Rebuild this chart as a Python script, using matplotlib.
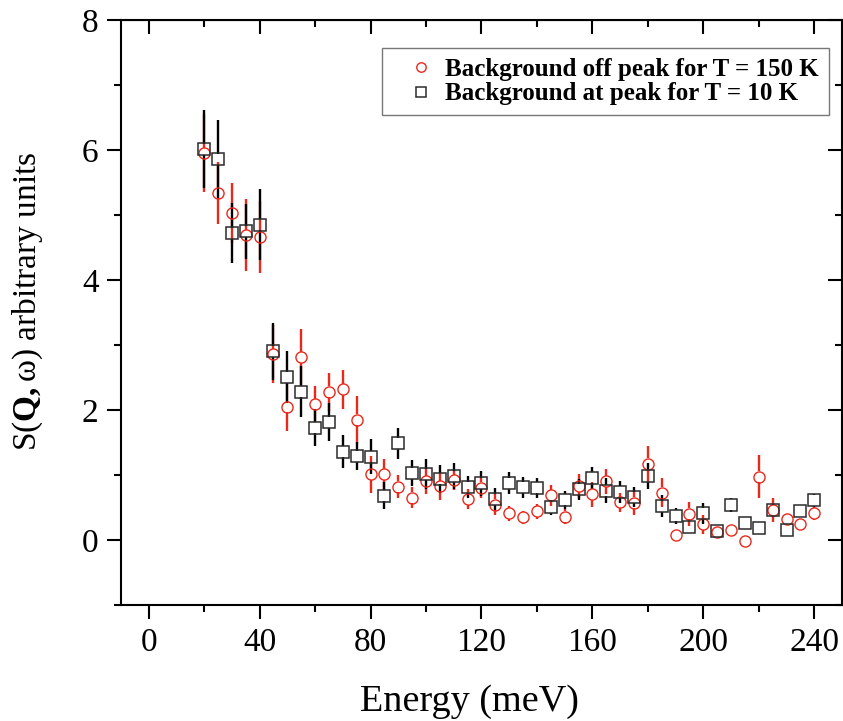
import numpy as np
import matplotlib
matplotlib.use("Agg")
import matplotlib.pyplot as plt

plt.rcParams['font.family'] = ['Liberation Serif', 'DejaVu Serif']
plt.rcParams['mathtext.fontset'] = 'custom'
plt.rcParams['mathtext.rm'] = 'Liberation Serif'
plt.rcParams['mathtext.it'] = 'Liberation Serif'
plt.rcParams['mathtext.bf'] = 'Liberation Serif:bold'

# Energy transfer grid (meV)
energy = np.arange(20, 245, 5)

# Background off peak, T = 150 K
s_150 = [5.95, 5.34, 5.03, 4.69, 4.66, 2.86, 2.05, 2.81, 2.09, 2.28,
         2.32, 1.85, 1.01, 1.01, 0.82, 0.65, 0.90, 0.83, 0.92, 0.63,
         0.80, 0.54, 0.41, 0.35, 0.44, 0.69, 0.36, 0.83, 0.70, 0.90,
         0.58, 0.57, 1.17, 0.73, 0.07, 0.40, 0.24, 0.12, 0.15, -0.01,
         0.97, 0.46, 0.32, 0.25, 0.41]
err_150 = [0.60, 0.48, 0.46, 0.55, 0.55, 0.44, 0.37, 0.43, 0.28, 0.29,
           0.30, 0.37, 0.28, 0.23, 0.18, 0.16, 0.20, 0.22, 0.15, 0.15,
           0.15, 0.16, 0.12, 0.10, 0.12, 0.16, 0.12, 0.18, 0.19, 0.19,
           0.15, 0.19, 0.28, 0.23, 0.05, 0.19, 0.15, 0.06, 0.08, 0.04,
           0.33, 0.19, 0.08, 0.06, 0.10]

# Background at peak, T = 10 K
s_10 = [6.01, 5.86, 4.72, 4.75, 4.85, 2.90, 2.50, 2.28, 1.73, 1.81,
        1.36, 1.29, 1.28, 0.68, 1.49, 1.03, 1.01, 0.94, 0.98, 0.81,
        0.87, 0.63, 0.87, 0.81, 0.80, 0.50, 0.62, 0.78, 0.96, 0.76,
        0.74, 0.66, 0.98, 0.52, 0.37, 0.20, 0.41, 0.14, 0.54, 0.26,
        0.18, 0.46, 0.16, 0.45, 0.61]
err_10 = [0.60, 0.60, 0.46, 0.42, 0.55, 0.44, 0.40, 0.39, 0.28, 0.29,
          0.25, 0.22, 0.27, 0.21, 0.24, 0.20, 0.23, 0.21, 0.20, 0.17,
          0.19, 0.17, 0.17, 0.16, 0.15, 0.12, 0.14, 0.16, 0.17, 0.19,
          0.17, 0.15, 0.20, 0.17, 0.12, 0.06, 0.16, 0.06, 0.11, 0.06,
          0.05, 0.10, 0.08, 0.08, 0.10]

RED = '#e8291c'
DARK = '#2b2b2b'

fig = plt.figure(figsize=(8.43, 7.21), dpi=100)
ax = fig.add_axes([0.1435, 0.1609, 0.8553, 0.8114])
ax.set_xlim(-10, 250)
ax.set_ylim(-1, 8)


def draw_bars(x, y, err, color, gap_px=5.5, lw=1.7):
    # error bars stop at the marker outline, like the hollow-symbol style
    y0 = ax.transData.transform((0, 0))[1]
    y1 = ax.transData.transform((0, 1))[1]
    gap = gap_px / (y1 - y0)
    for xi, yi, ei in zip(x, y, err):
        if ei <= gap:
            continue
        ax.vlines(xi, yi + gap, yi + ei, color=color, lw=lw, zorder=2)
        ax.vlines(xi, yi - ei, yi - gap, color=color, lw=lw, zorder=2)


draw_bars(energy, s_150, err_150, RED)
draw_bars(energy, s_10, err_10, 'black')

ax.plot(energy, s_150, 'o', ms=8, mfc='none', mec=RED, mew=1.0,
        zorder=3, label='Background off peak for T = 150 K')
ax.plot(energy, s_10, 's', ms=8, mfc='none', mec=DARK, mew=1.1,
        zorder=3, label='Background at peak for T = 10 K')

leg = ax.legend(loc='upper right', bbox_to_anchor=(0.982, 0.952),
                prop={'weight': 'bold', 'size': 18}, frameon=True,
                fancybox=False, handletextpad=-0.16, borderpad=0.4,
                labelspacing=0.05, handlelength=2.3, markerscale=0.85,
                borderaxespad=0)
leg.get_frame().set_edgecolor('#555555')
leg.get_frame().set_linewidth(1.0)

ax.set_xticks(np.arange(0, 241, 40))
ax.set_xticks(np.arange(20, 241, 40), minor=True)
ax.set_yticks(np.arange(0, 9, 2))
ax.set_yticks(np.arange(-1, 8, 2), minor=True)
ax.tick_params(which='major', direction='out', length=10, width=1.5,
               labelsize=24, pad=6)
ax.tick_params(which='minor', direction='out', length=5, width=1.5)

for sp in ax.spines.values():
    sp.set_linewidth(1.5)

# inward ticks on the top and right sides
top = ax.secondary_xaxis('top')
top.set_xticks(np.arange(0, 241, 40))
top.set_xticks(np.arange(20, 241, 40), minor=True)
top.tick_params(which='major', direction='in', length=10, width=1.5, labeltop=False)
top.tick_params(which='minor', direction='in', length=5, width=1.5)
right = ax.secondary_yaxis('right')
right.set_yticks(np.arange(0, 9, 2))
right.set_yticks(np.arange(-1, 8, 2), minor=True)
right.tick_params(which='major', direction='in', length=10, width=1.5, labelright=False)
right.tick_params(which='minor', direction='in', length=5, width=1.5)

ax.set_xlabel('Energy (meV)', fontsize=27.5, labelpad=15)
ax.xaxis.set_label_coords(0.483, -0.135)
ax.set_ylabel(r'S($\mathbf{Q,}\omega$) arbitrary units', fontsize=24)
ax.yaxis.set_label_coords(-0.105, 0.52)

fig.savefig('out.png', dpi=100)
